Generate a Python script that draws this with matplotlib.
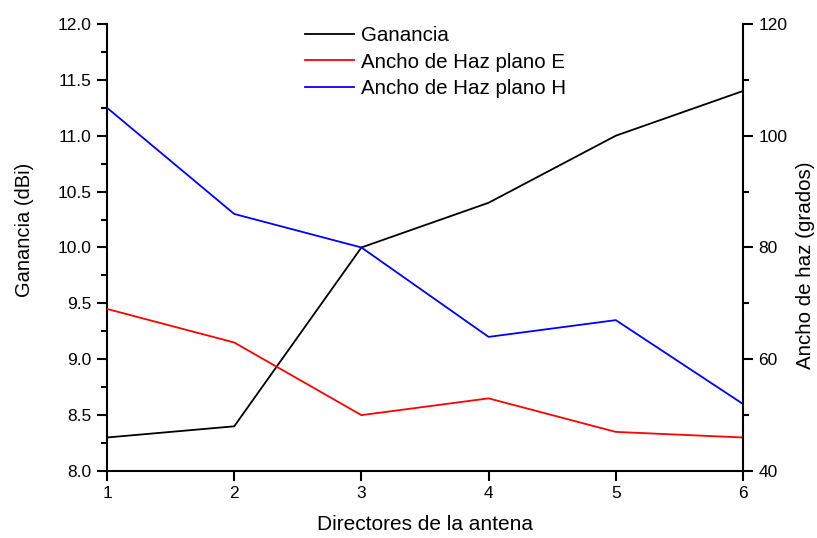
import matplotlib
matplotlib.use("Agg")
import matplotlib.pyplot as plt
from matplotlib.ticker import MultipleLocator

plt.rcParams['font.family'] = ['Liberation Sans', 'DejaVu Sans']

directores = [1, 2, 3, 4, 5, 6]
ganancia = [8.3, 8.4, 10.0, 10.4, 11.0, 11.4]
haz_e = [69, 63, 50, 53, 47, 46]
haz_h = [105, 86, 80, 64, 67, 52]

fig = plt.figure(figsize=(8.17, 5.38), dpi=100)
ax = fig.add_axes([0.131, 0.1245, 0.7784, 0.831])
ax2 = ax.twinx()

l1, = ax.plot(directores, ganancia, color='black', lw=1.3, label='Ganancia')
l2, = ax2.plot(directores, haz_e, color='#ff0000', lw=1.3, label='Ancho de Haz plano E')
l3, = ax2.plot(directores, haz_h, color='#0000ff', lw=1.3, label='Ancho de Haz plano H')

ax.set_xlim(1, 6)
ax.set_ylim(8.0, 12.0)
ax2.set_ylim(40, 120)
ax.set_xticks(directores)
ax.yaxis.set_major_locator(MultipleLocator(0.5))
ax.yaxis.set_minor_locator(MultipleLocator(0.25))
ax2.yaxis.set_major_locator(MultipleLocator(20))
ax2.yaxis.set_minor_locator(MultipleLocator(10))
ax.yaxis.set_major_formatter(matplotlib.ticker.FormatStrFormatter('%.1f'))

for a in (ax, ax2):
    a.spines['top'].set_visible(False)
    for s in a.spines.values():
        s.set_linewidth(1.5)
    a.tick_params(which='major', direction='out', length=7, width=1.5, labelsize=12.5, pad=4)
    a.tick_params(which='minor', direction='out', length=4, width=1.5)
ax.spines['right'].set_visible(False)
ax2.spines['left'].set_visible(False)
ax2.spines['bottom'].set_visible(False)

ax.set_xlabel('Directores de la antena', fontsize=15, labelpad=10)
ax.set_ylabel('Ganancia (dBi)', fontsize=14.5)
ax2.set_ylabel('Ancho de haz (grados)', fontsize=14.8)
ax.yaxis.set_label_coords(-0.115, 0.539)
ax2.yaxis.set_label_coords(1.083, 0.461)

ax2.legend(handles=[l1, l2, l3], loc='upper left', bbox_to_anchor=(0.312, 0.995),
           frameon=False, fontsize=14.8, handlelength=2.35, handletextpad=0.35,
           labelspacing=0.36, borderaxespad=0, borderpad=0)

fig.savefig('out.png', dpi=100, facecolor='white')
